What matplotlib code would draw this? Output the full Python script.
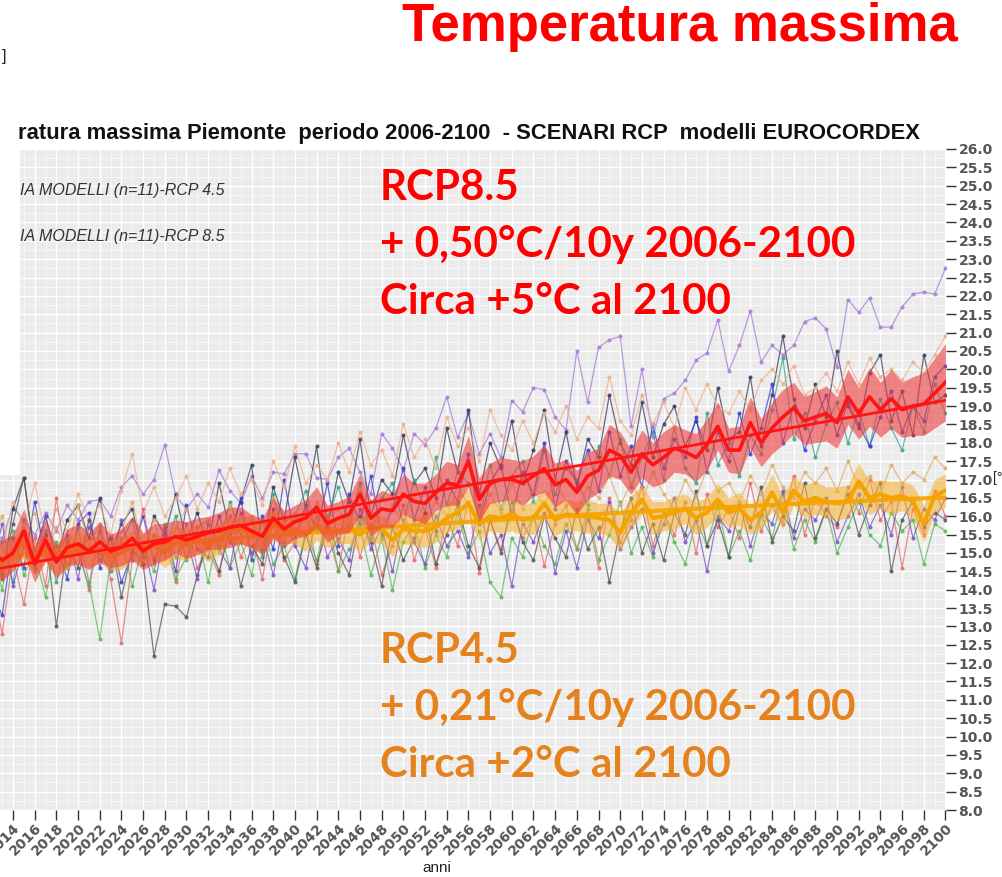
import matplotlib
matplotlib.use("Agg")
import matplotlib.pyplot as plt
from matplotlib.ticker import MultipleLocator, FormatStrFormatter
from matplotlib.patches import Rectangle
import numpy as np

# years shown (chart is cropped on the left, series start 2006)
years = np.arange(2012, 2101)

# ensemble mean RCP8.5 and RCP4.5
mean85 = [15.0, 14.8, 15.0, 15.6, 14.7, 15.35, 14.75, 15.15, 15.25,
          15.05, 15.3, 15.05, 15.15, 15.4, 15.05, 15.25, 15.3, 15.45, 15.35,
          15.45, 15.55, 15.6, 15.7, 15.75, 15.6, 15.45, 15.95, 15.65, 15.85,
          15.95, 16.25, 15.8, 15.95, 16.05, 16.6, 15.95, 16.2, 16.15, 16.6,
          16.4, 16.35, 16.65, 16.9, 16.85, 17.5, 16.45, 16.9, 17.0, 17.0,
          16.9, 17.1, 17.3, 16.85, 17.0, 16.65, 17.1, 17.25, 17.8, 17.65,
          17.2, 17.7, 17.4, 17.6, 17.85, 17.75, 17.6, 17.95, 18.45, 17.8,
          17.8, 18.55, 18.0, 18.4, 18.7, 18.95, 18.6, 18.7, 18.8, 18.55,
          19.25, 18.8, 19.25, 18.9, 19.2, 18.9, 19.0, 19.05, 19.35, 19.65]
mean45 = [14.8, 14.7, 15.0, 15.3, 14.8, 15.1, 14.8, 15.0, 15.2,
          15.0, 15.1, 14.9, 15.0, 15.2, 15.1, 15.2, 15.0, 15.3, 15.2,
          15.4, 15.2, 15.4, 15.6, 15.65, 15.55, 15.45, 15.75, 15.6, 15.65,
          15.5, 15.75, 15.55, 15.6, 15.65, 15.5, 15.7, 15.65, 15.35, 15.65,
          15.6, 15.6, 15.7, 15.95, 16.1, 16.35, 15.8, 16.0, 15.95, 16.05,
          15.9, 15.95, 16.35, 15.9, 16.05, 16.0, 16.0, 15.95, 15.9, 15.55,
          16.1, 16.45, 15.95, 16.0, 16.1, 16.2, 15.95, 16.1, 16.45, 16.1,
          16.2, 15.9, 16.1, 16.65, 16.1, 16.7, 16.4, 16.5, 16.4, 16.35,
          16.4, 16.95, 16.5, 16.6, 16.5, 16.55, 16.4, 15.8, 16.55, 16.7]

# half width of the shaded spread
hw85 = [0.5, 0.55, 0.5, 0.6, 0.5, 0.55, 0.45, 0.5, 0.55,
        0.5, 0.55, 0.45, 0.5, 0.6, 0.5, 0.55, 0.5, 0.45, 0.5,
        0.5, 0.45, 0.5, 0.55, 0.5, 0.45, 0.5, 0.55, 0.5, 0.45,
        0.5, 0.55, 0.5, 0.45, 0.5, 0.55, 0.5, 0.5, 0.45, 0.55,
        0.5, 0.55, 0.5, 0.6, 0.55, 0.7, 0.6, 0.55, 0.6, 0.55,
        0.6, 0.55, 0.65, 0.6, 0.55, 0.6, 0.65, 0.6, 0.7, 0.65,
        0.6, 0.65, 0.6, 0.7, 0.65, 0.6, 0.65, 0.7, 0.65, 0.6,
        0.65, 0.7, 0.65, 0.7, 0.75, 0.7, 0.65, 0.7, 0.75, 0.7,
        0.75, 0.7, 0.8, 0.75, 0.8, 0.75, 0.8, 0.85, 0.95, 1.05]
hw45 = [0.4, 0.45, 0.4, 0.45, 0.4, 0.35, 0.4, 0.45, 0.4,
        0.4, 0.35, 0.4, 0.45, 0.4, 0.4, 0.35, 0.4, 0.45, 0.4,
        0.4, 0.45, 0.4, 0.35, 0.4, 0.45, 0.4, 0.4, 0.35, 0.4,
        0.45, 0.4, 0.4, 0.35, 0.4, 0.45, 0.4, 0.4, 0.45, 0.4,
        0.4, 0.45, 0.4, 0.4, 0.45, 0.4, 0.45, 0.4, 0.4, 0.45,
        0.4, 0.45, 0.4, 0.45, 0.4, 0.4, 0.45, 0.4, 0.45, 0.5,
        0.45, 0.4, 0.45, 0.4, 0.45, 0.4, 0.45, 0.4, 0.45, 0.4,
        0.45, 0.4, 0.45, 0.5, 0.45, 0.4, 0.45, 0.45, 0.4, 0.45,
        0.45, 0.5, 0.45, 0.4, 0.45, 0.4, 0.45, 0.5, 0.45, 0.45]

# single models (estimated)
m_purple = [15.6, 15.4, 16.25, 15.9, 15.5, 16.1, 15.6, 16.3, 15.9,
            16.4, 16.45, 16.0, 16.8, 17.1, 16.6, 17.0, 17.95, 16.55, 16.2,
            16.6, 16.25, 17.25, 16.7, 16.35, 17.1, 16.5, 17.2, 17.15, 17.7,
            17.7, 17.05, 17.0, 17.6, 17.85, 17.2, 16.6, 18.25, 17.85, 17.25,
            18.25, 17.95, 18.4, 19.25, 18.15, 18.8, 17.7, 18.25, 17.6, 19.15,
            18.85, 19.5, 19.45, 18.7, 18.35, 20.5, 19.1, 20.6, 20.8, 20.9,
            18.45, 20.0, 18.15, 19.2, 19.35, 19.7, 20.25, 20.45, 21.35, 19.95,
            20.65, 21.6, 20.2, 20.65, 20.4, 20.65, 21.3, 21.4, 21.1, 20.05,
            21.9, 21.55, 21.95, 21.15, 21.15, 21.7, 22.05, 22.1, 22.05, 22.75]
m_navy = [15.2, 14.3, 16.2, 17.05, 15.0, 16.0, 14.8, 15.9, 16.3,
          15.4, 16.5, 15.0, 15.8, 16.2, 14.9, 16.0, 15.5, 16.6, 15.3,
          16.1, 15.2, 16.9, 15.6, 16.4, 17.4, 15.1, 16.8, 15.9, 17.6,
          16.2, 17.9, 15.7, 17.2, 16.4, 18.1, 16.0, 17.0, 16.6, 18.2,
          16.9, 17.3, 16.5, 18.4, 17.2, 18.9, 16.6, 18.0, 17.3, 18.6,
          16.9, 17.8, 18.9, 17.0, 18.3, 16.8, 18.1, 17.6, 19.3, 18.0,
          17.4, 19.1, 17.6, 18.5, 19.0, 17.9, 18.6, 17.8, 19.5, 18.1,
          18.3, 19.8, 17.9, 19.3, 20.9, 19.2, 18.4, 19.6, 18.7, 20.5,
          19.0, 18.4, 19.9, 20.4, 18.6, 19.4, 18.2, 20.4, 19.1, 19.3]
m_teal = [14.6, 15.3, 14.2, 15.9, 14.5, 15.6, 14.2, 15.4, 15.0,
          14.1, 15.7, 14.6, 15.3, 15.9, 14.7, 15.5, 15.1, 16.0, 14.8,
          15.7, 15.9, 15.2, 16.4, 15.5, 15.9, 14.9, 16.6, 15.3, 16.0,
          16.7, 15.6, 15.9, 16.8, 15.7, 16.9, 15.4, 16.5, 16.9, 15.8,
          17.0, 16.1, 17.6, 16.3, 17.2, 16.9, 15.9, 17.4, 16.2, 17.1,
          17.5, 16.4, 17.8, 16.6, 17.3, 17.0, 16.3, 17.9, 17.1, 18.1,
          16.8, 17.6, 18.3, 17.0, 18.4, 17.3, 16.9, 18.8, 17.4, 18.0,
          17.1, 18.2, 17.7, 18.9, 20.3, 18.1, 18.8, 17.6, 18.5, 19.1,
          18.0, 18.9, 17.9, 19.2, 18.4, 17.8, 19.0, 18.3, 19.6, 18.8]
m_blue = [14.0, 13.3, 15.4, 14.6, 16.4, 14.9, 15.2, 14.3, 15.8,
          16.1, 14.6, 15.5, 14.2, 15.0, 16.0, 14.8, 15.7, 14.5, 16.3,
          15.1, 14.9, 16.0, 15.3, 16.5, 14.8, 16.0, 15.1, 17.0, 15.4,
          16.3, 15.6, 16.9, 15.2, 16.6, 15.8, 17.1, 15.5, 16.2, 17.3,
          15.9, 16.8, 15.6, 17.0, 16.4, 17.7, 15.8, 16.9, 17.4, 16.0,
          17.2, 16.6, 18.0, 16.2, 17.5, 16.9, 17.8, 16.7, 18.3, 17.1,
          17.9, 16.8, 18.5, 17.3, 18.1, 17.6, 18.7, 17.2, 18.3, 17.5,
          18.8, 17.7, 18.4, 19.6, 18.0, 19.0, 17.8, 18.6, 19.3, 18.2,
          19.1, 18.5, 17.9, 18.7, 19.4, 18.3, 19.0, 18.6, 19.8, 20.1]
m_peach = [15.8, 15.1, 16.4, 15.7, 16.9, 15.4, 16.2, 15.6, 16.6,
           15.9, 16.3, 15.5, 16.7, 17.7, 16.1, 16.8, 16.0, 16.5, 17.1,
           16.2, 16.9, 16.4, 17.3, 16.6, 17.0, 16.3, 17.5, 16.8, 17.9,
           16.9, 17.4, 17.0, 18.0, 17.2, 18.3, 17.4, 17.8, 17.1, 18.5,
           17.6, 18.1, 17.3, 18.7, 17.9, 18.4, 17.5, 18.9, 18.2, 17.8,
           18.6, 18.0, 18.8, 18.3, 19.0, 18.1, 18.7, 18.4, 19.8, 18.6,
           18.2, 19.3, 18.5, 19.1, 18.4, 19.5, 18.9, 19.6, 19.0, 18.8,
           19.4, 18.9, 19.7, 20.0, 19.6, 20.1, 19.3, 19.5, 19.9, 19.4,
           20.2, 19.6, 20.3, 19.8, 20.0, 19.7, 20.2, 19.9, 20.4, 20.9]
m_salmon = [14.3, 12.8, 14.9, 13.6, 15.4, 14.1, 16.5, 14.6, 15.2,
            14.0, 15.6, 14.3, 12.55, 14.8, 16.2, 14.7, 15.4, 14.2, 15.8,
            14.6, 15.1, 14.4, 16.0, 14.9, 15.5, 14.3, 15.9, 14.8, 15.3,
            16.2, 14.7, 15.6, 14.5, 16.1, 14.9, 15.8, 14.4, 15.2, 16.3,
            14.8, 15.7, 14.6, 16.0, 15.2, 16.4, 14.45, 15.9, 15.1, 16.2,
            15.4, 16.0, 14.65, 15.8, 16.3, 15.1, 16.0, 14.6, 16.5, 15.3,
            15.9, 16.8, 15.2, 16.1, 15.5, 16.4, 15.0, 16.6, 15.7, 16.2,
            15.4, 16.9, 15.6, 16.3, 15.8, 17.1, 15.5, 16.5, 16.0, 15.7,
            16.8, 16.1, 17.0, 15.9, 16.4, 14.6, 16.2, 15.5, 16.7, 16.0]
m_green = [15.1, 14.0, 15.6, 14.4, 15.0, 13.8, 15.3, 14.6, 15.7,
           14.2, 12.65, 14.8, 15.4, 14.1, 15.2, 14.5, 15.8, 14.3, 14.9,
           15.5, 14.2, 15.7, 14.6, 15.3, 14.4, 15.9, 14.7, 15.2, 14.3,
           15.6, 14.8, 16.0, 14.5, 15.1, 15.7, 14.4, 15.4, 14.0, 15.3,
           15.8, 14.6, 15.5, 14.9, 16.1, 15.0, 15.6, 14.2, 13.8, 15.4,
           14.9, 16.0, 15.2, 14.7, 15.8, 15.1, 16.2, 14.8, 15.5, 16.4,
           15.0, 15.7, 14.9, 16.1, 15.3, 14.7, 15.9, 15.2, 16.3, 14.9,
           15.6, 14.8, 16.0, 15.4, 16.6, 15.1, 15.9, 15.3, 16.2, 15.0,
           15.7, 16.4, 15.5, 15.2, 16.1, 15.6, 15.9, 14.7, 15.8, 15.6]
m_gray = [15.6, 14.4, 15.8, 17.05, 14.9, 15.5, 13.0, 15.3, 14.6,
          15.9, 14.8, 15.4, 13.8, 15.1, 14.7, 12.2, 13.6, 13.55, 13.25,
          14.4, 15.3, 14.5, 15.6, 14.1, 15.2, 14.7, 16.2, 14.9, 14.2,
          15.5, 14.6, 15.9, 15.0, 14.4, 16.0, 15.3, 14.1, 15.7, 14.8,
          15.4, 16.1, 14.7, 15.5, 16.3, 15.2, 14.6, 15.9, 15.0, 16.4,
          15.3, 14.8, 16.0, 15.4, 14.9, 16.2, 15.1, 15.7, 14.2, 15.6,
          16.5, 15.0, 15.8, 14.8, 16.1, 15.5, 16.7, 15.2, 15.9, 14.9,
          16.3, 15.7, 16.8, 15.3, 16.0, 15.6, 16.9, 15.4, 16.2, 15.8,
          16.6, 15.5, 16.3, 16.9, 14.5, 15.9, 16.4, 15.7, 16.1, 15.9]
m_violet = [14.5, 15.8, 14.1, 15.2, 14.6, 16.0, 14.9, 15.5, 14.3,
            15.7, 15.0, 14.5, 15.9, 14.8, 15.3, 14.0, 15.6, 14.9, 15.4,
            14.3, 15.8, 15.1, 14.6, 16.1, 15.0, 15.5, 14.4, 15.9, 15.2,
            14.6, 16.0, 14.9, 15.4, 14.8, 16.2, 15.1, 15.7, 14.5, 15.9,
            15.3, 14.7, 16.0, 15.2, 15.6, 14.9, 16.3, 15.0, 15.5, 14.1,
            15.8, 15.3, 16.1, 14.45, 15.6, 14.6, 15.9, 15.4, 16.4, 15.1,
            15.7, 16.2, 15.0, 15.8, 16.5, 15.3, 15.9, 14.5, 16.0, 15.6,
            16.4, 15.2, 16.1, 15.8, 16.7, 15.4, 16.2, 15.9, 16.5, 15.3,
            16.0, 16.6, 15.7, 16.3, 15.5, 16.8, 15.4, 16.2, 15.9, 16.5]
m_tan = [15.3, 16.0, 14.7, 15.5, 16.1, 14.9, 15.7, 15.0, 16.3,
         15.2, 15.8, 14.8, 15.6, 16.4, 15.1, 15.9, 14.9, 15.7, 16.2,
         15.4, 15.9, 15.0, 16.3, 15.6, 16.0, 15.2, 16.5, 15.8, 16.1,
         15.5, 16.4, 15.9, 16.2, 15.6, 16.7, 16.0, 15.7, 16.3, 15.8,
         16.6, 15.9, 16.4, 16.0, 16.8, 16.3, 15.9, 16.6, 16.1, 16.9,
         16.2, 16.7, 16.3, 17.0, 16.4, 16.1, 16.8, 16.5, 17.1, 16.3,
         16.9, 16.4, 17.2, 16.6, 16.2, 17.0, 16.5, 17.3, 16.7, 16.9,
         16.4, 17.1, 16.6, 17.4, 16.8, 16.5, 17.2, 16.9, 17.3, 16.7,
         17.5, 16.8, 17.1, 16.6, 17.4, 16.9, 17.2, 17.0, 17.6, 17.3]

models = [(m_purple, "#a77bd8"), (m_navy, "#3a3a5c"), (m_teal, "#3aa58a"),
          (m_blue, "#3c3cd2"), (m_peach, "#eeb08a"), (m_salmon, "#e46a6a"),
          (m_green, "#55b855"), (m_gray, "#555555"), (m_violet, "#7a52c8"),
          (m_tan, "#dcae62")]

fig = plt.figure(figsize=(10.02, 8.77), dpi=100)
ax = fig.add_axes([0.0, 1 - 810 / 877, 946 / 1002, 661 / 877])
ax.set_facecolor("#ebebeb")

for vals, col in models:
    ax.plot(years, vals, color=col, lw=0.9, alpha=0.75, marker="o", ms=2, zorder=2)

m45 = np.array(mean45)
m85 = np.array(mean85)
ax.fill_between(years, m45 - np.array(hw45), m45 + np.array(hw45),
                color="#f5b02a", alpha=0.55, lw=0, zorder=3)
ax.plot(years, m45, color="#f5a300", lw=3, zorder=4)
ax.fill_between(years, m85 - np.array(hw85), m85 + np.array(hw85),
                color="#ee3b3b", alpha=0.6, lw=0, zorder=5)
ax.plot(years, m85, color="#ff1414", lw=2.6, zorder=6)

# trend lines
fit85 = np.polyval(np.polyfit(years, m85, 1), years)
fit45 = np.polyval(np.polyfit(years, m45, 2), years)
ax.plot(years, fit45, color="#f5a300", lw=3, alpha=0.9, zorder=4)
ax.plot(years, fit85, color="#ff1414", lw=2, zorder=6)

ax.set_xlim(2012.8, 2100.05)
ax.set_ylim(8, 26)
ax.xaxis.set_major_locator(MultipleLocator(2))
ax.xaxis.set_minor_locator(MultipleLocator(1))
ax.yaxis.set_major_locator(MultipleLocator(0.5))
ax.yaxis.set_minor_locator(MultipleLocator(0.25))
ax.yaxis.set_major_formatter(FormatStrFormatter("%.1f"))
ax.yaxis.tick_right()
ax.grid(which="major", color="white", lw=1.0, zorder=0)
ax.grid(which="minor", color="white", lw=0.5, alpha=0.8, zorder=0)
ax.set_axisbelow(True)
for s in ax.spines.values():
    s.set_visible(False)
ax.tick_params(axis="both", which="minor", length=0)
ax.tick_params(axis="both", which="major", length=7, color="#333333", width=1)
ax.tick_params(axis="y", labelsize=10, labelcolor="#555555", pad=2)
ax.tick_params(axis="x", labelsize=10, labelcolor="#555555", pad=1)
for lab in ax.get_yticklabels():
    lab.set_fontweight("bold")
for lab in ax.get_xticklabels():
    lab.set_fontweight("bold")
    lab.set_rotation(45)
    lab.set_ha("right")
    lab.set_rotation_mode("anchor")

# white block of the slide covering the left edge
fig.patches.append(Rectangle((0, 1 - 475 / 877), 20 / 1002, (475 - 148) / 877,
                             transform=fig.transFigure, facecolor="white",
                             edgecolor="none", zorder=10))

fig.text(402 / 1002, 1 - 27 / 877, "Temperatura massima", color="#ff0000",
         fontsize=38, fontweight="bold", family="Liberation Sans", va="center")
fig.text(18 / 1002, 1 - 133 / 877,
         "ratura massima Piemonte  periodo 2006-2100  - SCENARI RCP  modelli EUROCORDEX",
         fontsize=15.8, fontweight="bold", family="Liberation Sans", va="center", color="#111111")
fig.text(20 / 1002, 1 - 190 / 877, "IA MODELLI (n=11)-RCP 4.5", fontsize=11.5,
         style="italic", family="Liberation Sans", va="center", color="#333333", zorder=11)
fig.text(20 / 1002, 1 - 237 / 877, "IA MODELLI (n=11)-RCP 8.5", fontsize=11.5,
         style="italic", family="Liberation Sans", va="center", color="#333333", zorder=11)

for i, t in enumerate(["RCP8.5", "+ 0,50°C/10y 2006-2100", "Circa +5°C al 2100"]):
    fig.text(380 / 1002, 1 - (188 + 57 * i) / 877, t, color="#ff0000",
             fontsize=30.3, fontweight="bold", family="Lato", va="center", zorder=12)
for i, t in enumerate(["RCP4.5", "+ 0,21°C/10y 2006-2100", "Circa +2°C al 2100"]):
    fig.text(380 / 1002, 1 - (651 + 57 * i) / 877, t, color="#e6821e",
             fontsize=30.3, fontweight="bold", family="Lato", va="center", zorder=12)

fig.text(437 / 1002, 1 - 868 / 877, "anni", fontsize=11, ha="center", va="center",
         family="Liberation Sans", color="#222222")
fig.text(993 / 1002, 1 - 478 / 877, "[°", fontsize=10, va="center",
         family="Liberation Sans", color="#222222")
fig.text(2 / 1002, 1 - 57 / 877, "]", fontsize=12, va="center",
         family="Liberation Sans", color="#222222")

fig.savefig("out.png", dpi=100)
